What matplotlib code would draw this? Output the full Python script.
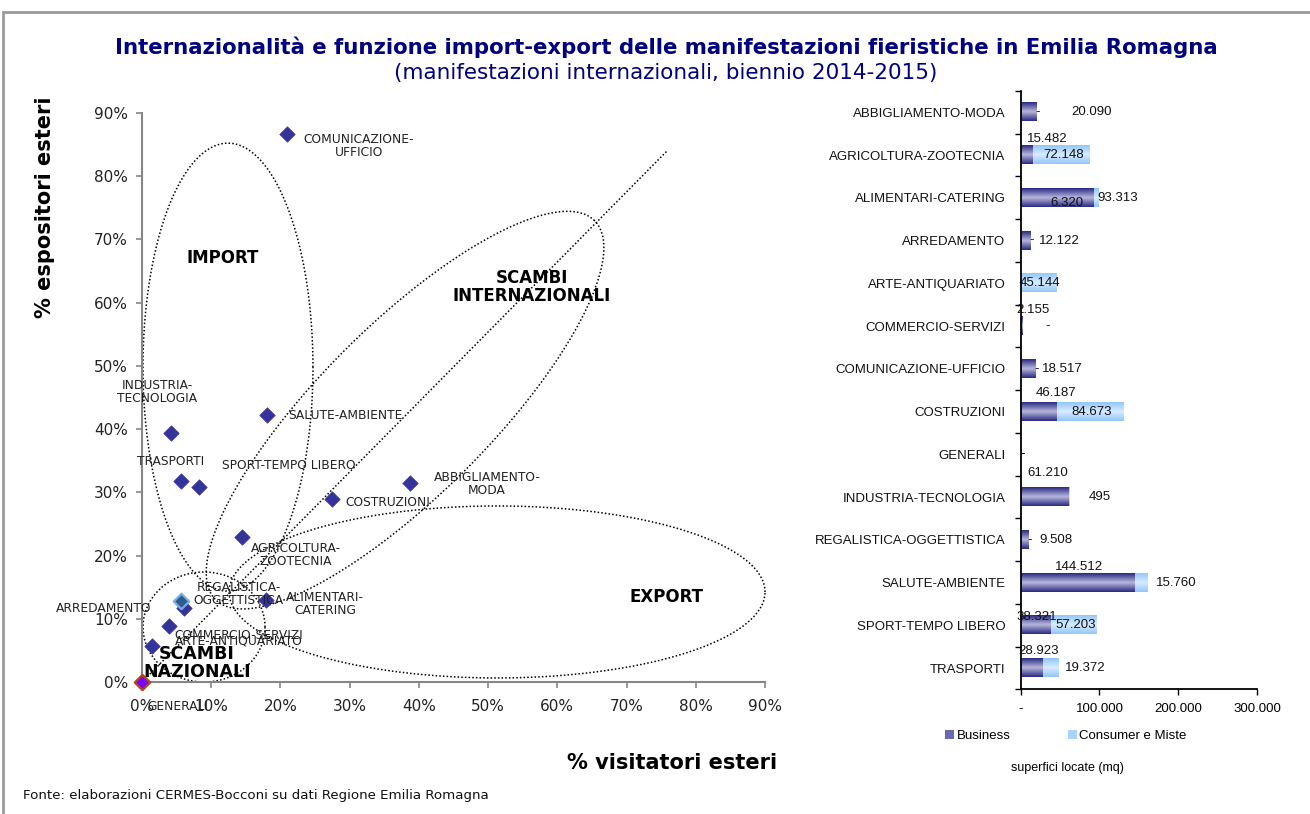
import numpy as np
import matplotlib
matplotlib.use("Agg")
import matplotlib.pyplot as plt
from matplotlib.patches import Rectangle, Patch
from matplotlib.ticker import FuncFormatter, FixedLocator

# settori (stesso ordine per scatter e barre)
settori = ['ABBIGLIAMENTO-MODA', 'AGRICOLTURA-ZOOTECNIA', 'ALIMENTARI-CATERING',
           'ARREDAMENTO', 'ARTE-ANTIQUARIATO', 'COMMERCIO-SERVIZI',
           'COMUNICAZIONE-UFFICIO', 'COSTRUZIONI', 'GENERALI',
           'INDUSTRIA-TECNOLOGIA', 'REGALISTICA-OGGETTISTICA', 'SALUTE-AMBIENTE',
           'SPORT-TEMPO LIBERO', 'TRASPORTI']

# scatter: % visitatori esteri (x), % espositori esteri (y)
visitatori_esteri = [0.387, 0.144, 0.179, 0.060, 0.014, 0.039, 0.2095, 0.275, 0.0,
                     0.042, 0.057, 0.180, 0.083, 0.056]
espositori_esteri = [0.315, 0.229, 0.130, 0.117, 0.057, 0.088, 0.867, 0.289, 0.0,
                     0.394, 0.128, 0.423, 0.309, 0.318]
etichette_scatter = ['ABBIGLIAMENTO-\nMODA', 'AGRICOLTURA-\nZOOTECNIA', 'ALIMENTARI-\nCATERING',
                     'ARREDAMENTO', 'ARTE-ANTIQUARIATO', 'COMMERCIO-SERVIZI',
                     'COMUNICAZIONE-\nUFFICIO', 'COSTRUZIONI', 'GENERALI',
                     'INDUSTRIA-\nTECNOLOGIA', 'REGALISTICA-\nOGGETTISTICA', 'SALUTE-AMBIENTE',
                     'SPORT-TEMPO LIBERO', 'TRASPORTI']

# barre: superfici locate (mq)
business = [20090, 15482, 93313, 12122, 0, 2155, 18517, 46187, 0, 61210, 9508, 144512, 38321, 28923]
consumer = [0, 72148, 6320, 0, 45144, 0, 0, 84673, 0, 495, 0, 15760, 57203, 19372]

# posizioni etichette (offset in pixel)
off_scatter = [(77, -1), (54, -18), (59, -4), (-80, 0), (87, 5), (70, -9), (72, -12),
               (55, -3), (36, -25), (-14, 41), (57, 7), (79, -1), (89, 21), (-10, 19)]
off_bus = [(63, 0), (20, 16), (60, 0), (34, 0), (0, 0), (11, 16), (34, 0), (17, 19),
           (1.5, 0), (3, 24), (31, 0), (1.5, 16), (1, 8), (6, 17)]
off_con = [(1.5, 0), (2, 0), (-30, -5), (1.7, 0), (1.5, 0), (25.6, 0), (1.7, 0), (1.5, 0),
           (1.5, 0), (31, 0), (1, 0), (36, 0), (2, 0), (34, 0)]

W, H = 1310, 814
fig = plt.figure(figsize=(W / 100, H / 100), dpi=100)
fig.patch.set_facecolor('white')
fig.add_artist(Rectangle((3 / W, -0.1), 1.2, 1.1 - 12 / H, transform=fig.transFigure,
                         fill=False, ec='#9a9a9a', lw=2))

navy = '#000080'
fig.text(0.5084, 1 - 47 / H, 'Internazionalità e funzione import-export delle manifestazioni fieristiche in Emilia Romagna',
         ha='center', va='center', fontsize=15.3, fontweight='bold', color=navy, family='DejaVu Sans')
fig.text(0.5084, 1 - 73 / H, '(manifestazioni internazionali, biennio 2014-2015)',
         ha='center', va='center', fontsize=15.5, color=navy, family='DejaVu Sans')

# ---------------- scatter ----------------
ax = fig.add_axes([142 / W, 1 - 682 / H, 623 / W, 569 / H])
ax.set_xlim(0, 0.9)
ax.set_ylim(0, 0.9)
pct = FuncFormatter(lambda v, p: f'{v * 100:.0f}%')
ax.xaxis.set_major_locator(FixedLocator(np.arange(0, 0.91, 0.1)))
ax.yaxis.set_major_locator(FixedLocator(np.arange(0, 0.91, 0.1)))
ax.xaxis.set_major_formatter(pct)
ax.yaxis.set_major_formatter(pct)
for s in ['top', 'right']:
    ax.spines[s].set_visible(False)
for s in ['left', 'bottom']:
    ax.spines[s].set_color('#868686')
    ax.spines[s].set_linewidth(1.5)
ax.tick_params(axis='both', colors='#868686', length=4, width=1.2, labelsize=11, labelcolor='#222222')
ax.tick_params(axis='x', pad=8)
ax.tick_params(axis='y', pad=6)
ax.patch.set_alpha(0)

fig.text(45 / W, 1 - 207 / H, '% espositori esteri', rotation=90, ha='center', va='center',
         fontsize=15, fontweight='bold', family='DejaVu Sans')
fig.text(672 / W, 1 - 763 / H, '% visitatori esteri', ha='center', va='center',
         fontsize=15, fontweight='bold', family='DejaVu Sans')

sx = ax.bbox.width / 0.9
sy = ax.bbox.height / 0.9


def ellisse(cx, cy, a, b, ang):
    t = np.linspace(0, 2 * np.pi, 400)
    r = np.deg2rad(ang)
    px = a * np.cos(t) * np.cos(r) - b * np.sin(t) * np.sin(r)
    py = a * np.cos(t) * np.sin(r) + b * np.sin(t) * np.cos(r)
    ax.plot(cx + px / sx, cy + py / sy, color='black', lw=1.1, ls=(0, (1, 1.4)), zorder=1, clip_on=False)


ellisse(0.1242, 0.498, 85, 224, 0)      # import
ellisse(0.380, 0.430, 268, 85, 45)      # scambi internazionali
ellisse(0.5129, 0.1424, 268, 86, 0)     # export
ellisse(0.0896, 0.087, 61, 55, 0)       # scambi nazionali
ax.plot([0, 0.7585], [0, 0.84], color='black', lw=1.1, ls=(0, (1, 1.4)), zorder=1)

zona = dict(ha='center', va='center', fontsize=12, fontweight='bold', family='DejaVu Sans', zorder=4)
ax.text(0.117, 0.6707, 'IMPORT', **zona)
ax.text(0.5634, 0.6248, 'SCAMBI\nINTERNAZIONALI', linespacing=1.0, **zona)
ax.text(0.757, 0.1345, 'EXPORT', **zona)
ax.text(0.0795, 0.030, 'SCAMBI\nNAZIONALI', linespacing=1.0, **dict(zona, fontsize=12.5))

facce = ['#333399'] * 14
bordi = ['#3a3aa0'] * 14
facce[10], bordi[10] = '#2d5b8c', '#74aee6'
facce[8], bordi[8] = '#7a00ff', '#b84a00'
for i in range(len(settori)):
    lw = 1.6 if i in (8, 10) else 0.5
    ax.scatter(visitatori_esteri[i], espositori_esteri[i], marker='D', s=62, c=facce[i],
               edgecolors=bordi[i], linewidths=lw, zorder=3, clip_on=False)
    ax.annotate(etichette_scatter[i], (visitatori_esteri[i], espositori_esteri[i]),
                xytext=off_scatter[i], textcoords='offset pixels', ha='center', va='center',
                multialignment='center', fontsize=8.8, color='#222222', family='DejaVu Sans',
                linespacing=1.05, zorder=4)

# ---------------- barre ----------------
bx = fig.add_axes([1020.7 / W, 1 - 689.4 / H, 236.3 / W, 598.5 / H])
y = np.arange(len(settori))
b1 = bx.barh(y, business, height=0.43, color='#6a6ab0', zorder=2)
b2 = bx.barh(y, consumer, left=business, height=0.43, color='#aad4ff', zorder=2)


def sfuma(patches, c_bordo, c_centro):
    c0 = np.array(matplotlib.colors.to_rgb(c_bordo))
    c1 = np.array(matplotlib.colors.to_rgb(c_centro))
    t = np.linspace(0, 1, 40)
    w = 1 - np.abs(t - 0.5) * 2
    grad = (c0[None, :] * (1 - w[:, None]) + c1[None, :] * w[:, None])[:, None, :]
    for p in patches:
        if p.get_width() <= 0:
            continue
        x0, y0 = p.get_x(), p.get_y()
        bx.imshow(grad, extent=[x0, x0 + p.get_width(), y0, y0 + p.get_height()],
                  aspect='auto', origin='lower', interpolation='bilinear', zorder=2)
        p.set_visible(False)


sfuma(b1, '#2b2b84', '#b6b6dc')
sfuma(b2, '#92c6fb', '#d8ecff')

bx.set_xlim(0, 300000)
bx.set_ylim(len(settori) - 0.5, -0.5)
bx.set_yticks(y)
bx.set_yticklabels(settori, family='Liberation Sans', fontsize=9.5, color='#111111')
bx.set_yticks(np.arange(-0.5, len(settori), 1), minor=True)
bx.tick_params(axis='y', which='major', length=0, pad=11)
bx.tick_params(axis='y', which='minor', length=4, width=1, direction='out')
bx.set_xticks([0, 100000, 200000, 300000])


def fmt(v):
    return '-' if v == 0 else f'{v:,.0f}'.replace(',', '.')


bx.xaxis.set_major_formatter(FuncFormatter(lambda v, p: fmt(v)))
bx.tick_params(axis='x', length=4, width=1, labelsize=9.5, pad=6)
for lab in bx.get_xticklabels():
    lab.set_family('Liberation Sans')
for s in ['top', 'right']:
    bx.spines[s].set_visible(False)
for s in ['left', 'bottom']:
    bx.spines[s].set_linewidth(1.3)
    bx.spines[s].set_zorder(5)

lab = dict(ha='center', va='center', fontsize=9.5, family='Liberation Sans', color='#111111',
           textcoords='offset pixels', zorder=6)
for i in range(len(settori)):
    bx.annotate(fmt(business[i]), (business[i] / 2, y[i]), xytext=(off_bus[i][0], off_bus[i][1]), **lab)
    bx.annotate(fmt(consumer[i]), (business[i] + consumer[i] / 2, y[i]),
                xytext=(off_con[i][0], off_con[i][1]), **lab)

fig.legend([Patch(facecolor='#6a6ab0'), Patch(facecolor='#aad4ff')], ['Business', 'Consumer e Miste'],
           loc='center', bbox_to_anchor=(1066 / W, 1 - 736 / H), ncol=2, frameon=False,
           handlelength=0.7, handleheight=0.7, columnspacing=4.3, handletextpad=0.2,
           prop={'family': 'Liberation Sans', 'size': 9.5})
fig.text(1067 / W, 1 - 768 / H, 'superfici locate (mq)', ha='center', va='center',
         fontsize=9, family='Liberation Sans')

fig.text(23 / W, 1 - 795 / H, 'Fonte: elaborazioni CERMES-Bocconi su dati Regione Emilia Romagna',
         ha='left', va='center', fontsize=9.6, family='DejaVu Sans', color='#111111')

fig.savefig('out.png', dpi=100, facecolor='white')
